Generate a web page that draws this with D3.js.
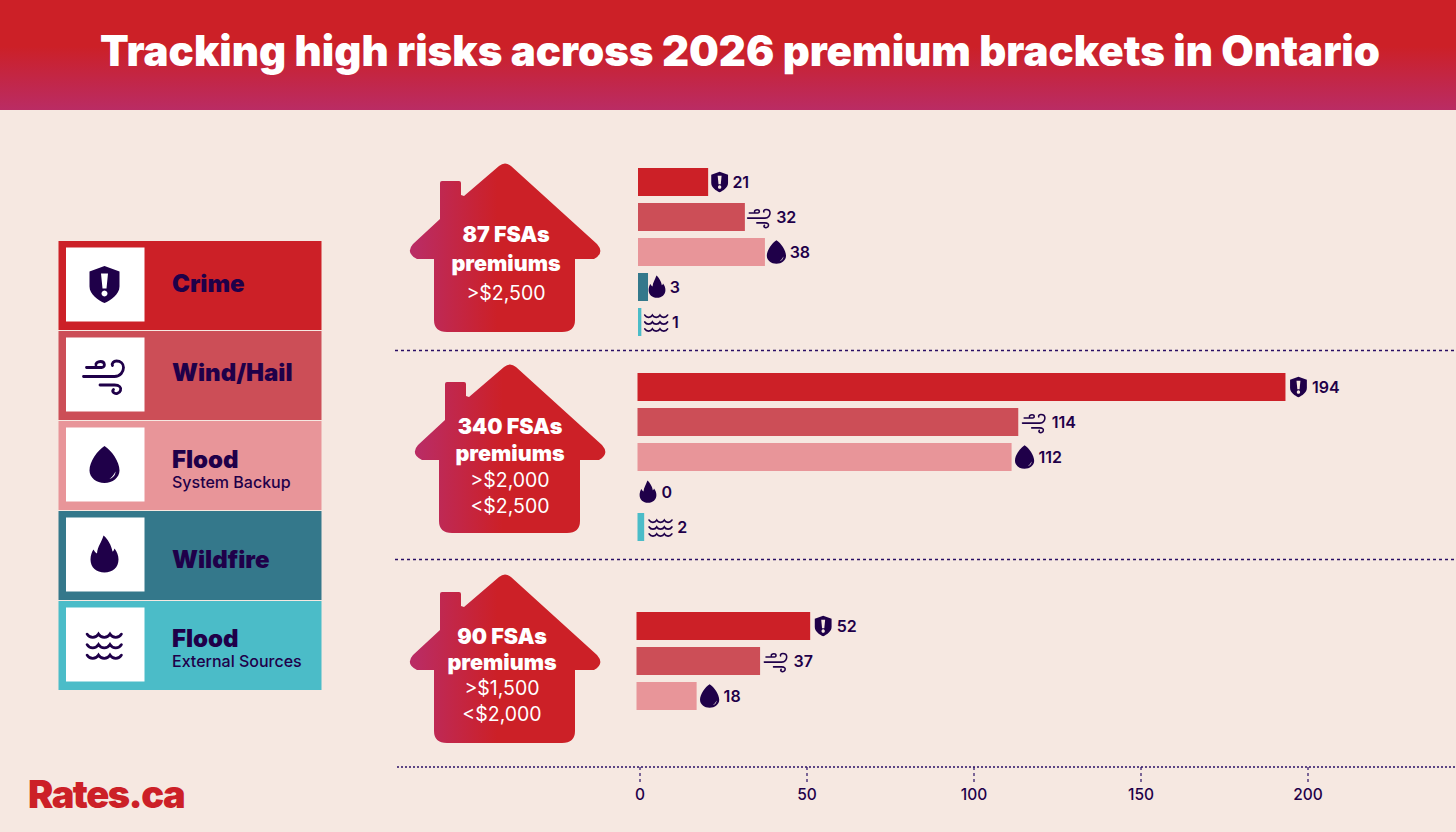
<!DOCTYPE html>
<html>
<head>
<meta charset="utf-8">
<script src="https://cdn.jsdelivr.net/npm/d3@7/dist/d3.min.js"></script>
<style>
html,body{margin:0;padding:0;background:#f6e8e1;overflow:hidden}
svg{display:block}
text{font-family:Inter,"Noto Sans",sans-serif}
</style>
</head>
<body>
<svg id="chart" width="1456" height="832"></svg>
<script>
// Risk categories, in the order they are stacked in every premium bracket
const categories = ["crime", "wind", "backup", "wildfire", "external"];
const categoryColors = ["#cc2027", "#cc4e57", "#e89599", "#34788b", "#4bbcc8"];
const legendTitles = ["Crime", "Wind/Hail", "Flood", "Wildfire", "Flood"];
const legendNotes = ["", "", "System Backup", "", "External Sources"];

// High-risk FSA counts per premium bracket
const crimeValues = [21, 194, 52];
const windValues = [32, 114, 37];
const backupValues = [38, 112, 18];
const wildfireValues = [3, 0, null];
const externalValues = [1, 2, null];

const bracketHeads = ["87 FSAs", "340 FSAs", "90 FSAs"];
const bracketRanges = [[">$2,500"], [">$2,000", "<$2,500"], [">$1,500", "<$2,000"]];
const axisTicks = [0, 50, 100, 150, 200];

const seriesValues = [crimeValues, windValues, backupValues, wildfireValues, externalValues];
const INK = "#1f0049";
const svg = d3.select("#chart");
const defs = svg.append("defs");

// Gradients for the header band and the houses
const headGrad = defs.append("linearGradient").attr("id", "headGrad")
  .attr("x1", 0).attr("x2", 0).attr("y1", 0).attr("y2", 1);
headGrad.append("stop").attr("offset", "42%").attr("stop-color", "#cc2027");
headGrad.append("stop").attr("offset", "100%").attr("stop-color", "#ba2c64");
const houseGrad = defs.append("linearGradient").attr("id", "houseGrad")
  .attr("x1", 0).attr("x2", 1).attr("y1", 0).attr("y2", 0);
houseGrad.append("stop").attr("offset", "2%").attr("stop-color", "#ba2c64");
houseGrad.append("stop").attr("offset", "46%").attr("stop-color", "#cc2027");

svg.append("rect").attr("width", 1456).attr("height", 832).attr("fill", "#f6e8e1");
svg.append("rect").attr("width", 1456).attr("height", 110).attr("fill", "url(#headGrad)");
svg.append("text").attr("x", 740).attr("y", 66).attr("text-anchor", "middle")
  .attr("fill", "#fff").attr("font-size", 42).attr("font-weight", 900)
  .attr("textLength", 1280).attr("lengthAdjust", "spacingAndGlyphs")
  .text("Tracking high risks across 2026 premium brackets in Ontario");

// Icons are drawn around (0,0) at legend size and scaled down beside the bars
const iconDraw = {
  crime(g) {
    g.append("path").attr("fill", INK).attr("fill-rule", "evenodd").attr("d",
      "M0,-18.5 L15,-13 V2 C15,10 6,16 0,18.5 C-6,16 -15,10 -15,2 V-13 Z" +
      "M-3.5,-11 H3.5 L2,4 H-2 Z M0,6 A3,3 0 1 1 -0.01,6 Z");
  },
  wind(g) {
    g.append("path").attr("fill", "none").attr("stroke", INK).attr("stroke-width", 2.8)
      .attr("stroke-linecap", "round").attr("d",
      "M-18,-7 H-3 C1,-7 1,-13 -4,-13 C-7,-13 -9,-11 -8.5,-9.5" +
      "M-21,2 H10 C16,2 19,-3 19,-7 C19,-11 16,-13.5 12,-13.5 C9,-13.5 7,-11 8,-9" +
      "M-4.5,10.5 H10 C15,10.5 17,13 16,16 C15,19 11,20 9,18 C8,17 8,16 9,15");
  },
  backup(g) {
    g.append("path").attr("fill", INK).attr("fill-rule", "evenodd").attr("d",
      "M0,-18.5 C-7,-14 -15,-3 -15,6 C-15,13 -8,18.5 0,18.5 C8,18.5 15,13 15,6 C15,-3 7,-14 0,-18.5 Z" +
      "M11,7 C11,10.5 8.5,13.5 5,14.5 C7.5,12.5 9.5,10 11,7 Z");
  },
  wildfire(g) {
    g.append("path").attr("fill", INK).attr("d",
      "M-1,-19 C3,-16 7,-9 8,-3 C9,-3 9.5,-5 10,-6 C12.5,-3 14,1 14,5 " +
      "C14,13 8,18 0,18 C-8,18 -14,13 -14,5 C-14,1 -12.5,-3 -11,-5 C-10,-3 -9,-2 -7.5,-1 C-7,-8 -3,-12 -1,-19 Z");
  },
  external(g) {
    const wave = "c2.7,4.5 8.8,4.5 11.5,0 c2.7,4.5 8.8,4.5 11.5,0 c2.7,4.5 8.8,4.5 11.5,0";
    g.append("path").attr("fill", "none").attr("stroke", INK).attr("stroke-width", 2.6)
      .attr("stroke-linecap", "round")
      .attr("d", `M-17.5,-10.5 ${wave} M-17.5,0 ${wave} M-17.5,10.5 ${wave}`);
  }
};

// Legend
const legendTop = d3.scaleBand().domain(categories).range([241, 691]);
const legendTitleY = [50.5, 50, 47, 56.5, 45.5];
const legendNoteY = [0, 0, 67, 0, 65.5];
const legend = svg.append("g").selectAll("g").data(categories).join("g")
  .attr("transform", d => `translate(58.5,${legendTop(d)})`);
legend.append("rect").attr("width", 263).attr("height", 89)
  .attr("fill", (d, i) => categoryColors[i]);
legend.append("rect").attr("x", 7.5).attr("y", 6.5).attr("width", 78.5).attr("height", 74)
  .attr("fill", "#fff");
legend.append("g").attr("transform", "translate(46,43.5)")
  .each(function (d) { iconDraw[d](d3.select(this)); });
legend.append("text").attr("x", 113.5)
  .attr("y", (d, i) => legendTitleY[i])
  .attr("fill", INK).attr("font-size", 24).attr("font-weight", 900)
  .text((d, i) => legendTitles[i]);
legend.append("text").attr("x", 113.5).attr("y", (d, i) => legendNoteY[i])
  .attr("fill", INK).attr("font-size", 16).attr("font-weight", 500)
  .text((d, i) => legendNotes[i]);

// Shared value scale for all three bracket charts
const x = d3.scaleLinear().domain([0, 200]).range([638, 1306]);

// Per-bracket placement on the page
const bracketFrames = [
  { top: 168, shift: 0, houseX: 505, houseY: 163, pad: -1.5, textX: 1, lines: [79, 108, 137] },
  { top: 373, shift: -0.5, houseX: 510, houseY: 364, pad: 0, textX: 0, lines: [70, 97, 123, 149] },
  { top: 612, shift: -1.5, houseX: 505, houseY: 574, pad: 0, textX: -3, lines: [70, 96, 121, 147] }
];
const iconScale = { crime: 0.56, wind: 0.56, backup: 0.64, wildfire: 0.6, external: 0.66 };
const iconGap = { crime: 13, wind: 16, backup: 13, wildfire: 10.5, external: 16.5 };
const labelGap = { crime: 26.5, wind: 33.5, backup: 27, wildfire: 24, external: 33 };

// House outline: roof, eaves, walls and chimney
const houseOutline = "M-6,3 Q0,-2 6,3 L92,81 Q100,90 89,96 H70 V157 Q70,169 57,169 H-58 " +
  "Q-71,169 -71,157 V96 H-88 Q-100,90 -92,81 L-65,56 V20 Q-65,18 -63,18 H-46 Q-44,18 -44,20 V32 L-41,33 Z";

bracketFrames.forEach((frame, b) => {
  const band = d3.scaleBand().domain(categories).range([frame.top, frame.top + 168]).paddingInner(0.2);
  const g = svg.append("g").attr("transform", `translate(${frame.shift},0)`);
  const rows = categories
    .map((c, i) => ({ c, i, v: seriesValues[i][b] }))
    .filter(d => d.v !== null);

  g.selectAll("rect").data(rows).join("rect")
    .attr("x", x(0)).attr("y", d => band(d.c))
    .attr("width", d => x(d.v) - x(0)).attr("height", band.bandwidth())
    .attr("fill", d => categoryColors[d.i]);

  g.selectAll("g.icon").data(rows).join("g").attr("class", "icon")
    .attr("transform", d => `translate(${x(d.v) + iconGap[d.c] + frame.pad},${band(d.c) + band.bandwidth() / 2}) scale(${iconScale[d.c]})`)
    .each(function (d) { iconDraw[d.c](d3.select(this)); });

  g.selectAll("text.value").data(rows).join("text").attr("class", "value")
    .attr("x", d => x(d.v) + labelGap[d.c] + frame.pad * 1.5)
    .attr("y", d => band(d.c) + band.bandwidth() / 2 + 6)
    .attr("fill", INK).attr("font-size", 16).attr("font-weight", 600)
    .text(d => d.v);

  // House with the bracket description
  const house = svg.append("g").attr("transform", `translate(${frame.houseX},${frame.houseY})`);
  house.append("path").attr("d", houseOutline).attr("fill", "url(#houseGrad)");
  [bracketHeads[b], "premiums"].forEach((t, i) => {
    house.append("text").attr("x", frame.textX).attr("y", frame.lines[i]).attr("text-anchor", "middle")
      .attr("fill", "#fff").attr("font-size", 21.5).attr("font-weight", 900).text(t);
  });
  bracketRanges[b].forEach((t, i) => {
    house.append("text").attr("x", frame.textX).attr("y", frame.lines[i + 2]).attr("text-anchor", "middle")
      .attr("fill", "#fff").attr("font-size", 19.5).attr("font-weight", 400).text(t);
  });
});

// Dotted separators between brackets
[[395, 350.5, "3 3"], [395, 559.5, "3 3"], [397, 767, "2 2"]].forEach(([x0, y, dash]) => {
  svg.append("line").attr("x1", x0).attr("x2", 1456).attr("y1", y).attr("y2", y)
    .attr("stroke", "#2a0f66").attr("stroke-width", 1.6).attr("stroke-dasharray", dash);
});

// Value axis
const axis = svg.append("g").attr("transform", "translate(1.5,767)")
  .call(d3.axisBottom(x).tickValues(axisTicks).tickSize(16).tickPadding(6));
axis.select(".domain").remove();
axis.selectAll("line").attr("stroke", "#2a0f66").attr("stroke-width", 1.2).attr("stroke-dasharray", "3 3");
axis.selectAll("text").attr("fill", INK).attr("font-size", 15.5).attr("font-weight", 500)
  .attr("font-family", "Inter");

// Wordmark
svg.append("text").attr("x", 28).attr("y", 808).attr("fill", "#cc2027")
  .attr("font-size", 38).attr("font-weight", 900).attr("letter-spacing", -1.5)
  .text("Rates.ca");
</script>
</body>
</html>
